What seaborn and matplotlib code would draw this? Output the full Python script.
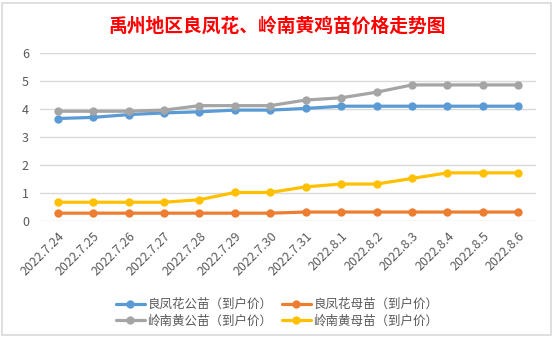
import matplotlib
matplotlib.use("Agg")
import matplotlib.pyplot as plt
import seaborn as sns
import pandas as pd
from matplotlib.patches import Rectangle

dates = ["2022.7.24", "2022.7.25", "2022.7.26", "2022.7.27", "2022.7.28", "2022.7.29",
         "2022.7.30", "2022.7.31", "2022.8.1", "2022.8.2", "2022.8.3", "2022.8.4",
         "2022.8.5", "2022.8.6"]
series_names = ["良凤花公苗（到户价）", "良凤花母苗（到户价）", "岭南黄公苗（到户价）", "岭南黄母苗（到户价）"]
lfh_male = [3.66, 3.7, 3.8, 3.86, 3.9, 3.96, 3.96, 4.02, 4.1, 4.1, 4.1, 4.1, 4.1, 4.1]
lfh_female = [0.28, 0.28, 0.28, 0.28, 0.28, 0.28, 0.28, 0.32, 0.32, 0.32, 0.32, 0.32, 0.32, 0.32]
lnh_male = [3.92, 3.92, 3.92, 3.96, 4.12, 4.12, 4.12, 4.32, 4.4, 4.6, 4.86, 4.86, 4.86, 4.86]
lnh_female = [0.67, 0.67, 0.67, 0.67, 0.76, 1.02, 1.02, 1.22, 1.32, 1.32, 1.52, 1.72, 1.72, 1.72]
colors = ["#5B9BD5", "#ED7D31", "#A5A5A5", "#FFC000"]
title = "禹州地区良凤花、岭南黄鸡苗价格走势图"

sns.set_theme(style="white")
plt.rcParams["font.family"] = ["Noto Sans CJK SC", "DejaVu Sans"]

rows = []
for name, vals in zip(series_names, [lfh_male, lfh_female, lnh_male, lnh_female]):
    for d, v in zip(dates, vals):
        rows.append({"date": d, "price": v, "series": name})
df = pd.DataFrame(rows)

fig = plt.figure(figsize=(5.54, 3.38), dpi=100)
ax = fig.add_axes([40 / 554, 117 / 338, 496 / 554, 168 / 338])

sns.lineplot(data=df, x="date", y="price", hue="series", hue_order=series_names,
             palette=colors, marker="o", markersize=6, markeredgewidth=0,
             linewidth=2.3, sort=False, ax=ax, legend=True)

ax.set_xlim(-0.5, len(dates) - 0.5)
ax.set_ylim(0, 6)
ax.set_yticks(range(0, 7))
ax.yaxis.grid(True, color="#D9D9D9", linewidth=1)
ax.xaxis.grid(False)
for s in ax.spines.values():
    s.set_visible(False)
ax.set_xlabel("")
ax.set_ylabel("")
ax.tick_params(axis="both", length=0, colors="#595959", labelsize=9)
ax.tick_params(axis="y", pad=8)
plt.setp(ax.get_xticklabels(), rotation=45, ha="right", rotation_mode="anchor")
ax.tick_params(axis="x", pad=6)

handles, labels = ax.get_legend_handles_labels()
ax.get_legend().remove()
order = [0, 2, 1, 3]
fig.legend([handles[i] for i in order], [labels[i] for i in order],
           loc="center", bbox_to_anchor=(0.5, 0.074), ncol=2,
           frameon=False, fontsize=9, handlelength=2.3, handletextpad=0.2,
           columnspacing=0.8, labelspacing=0.3, labelcolor="#595959")

fig.text(0.5, 0.923, title, ha="center", va="center", color="#FF0000",
         fontsize=13.5, fontweight="bold")

fig.patches.append(Rectangle((2 / 554, 3 / 338), 549 / 554, 332 / 338,
                             transform=fig.transFigure, fill=False,
                             edgecolor="#D9D9D9", linewidth=1.2))

fig.savefig("out.png", dpi=100)
